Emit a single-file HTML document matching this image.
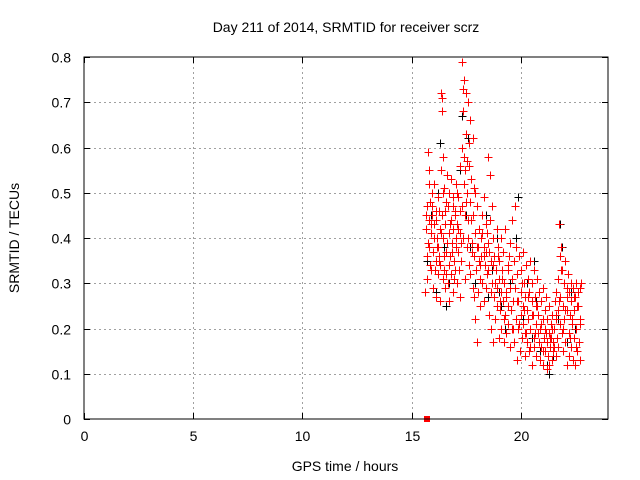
<!DOCTYPE html>
<html><head><meta charset="utf-8">
<style>
body{margin:0;background:#fff;}
svg{display:block;font-family:"Liberation Sans",sans-serif;}
</style></head>
<body>
<svg id="chart" width="640" height="480" xmlns="http://www.w3.org/2000/svg">
<text x="346" y="32" text-anchor="middle" font-size="14" fill="#000">Day 211 of 2014, SRMTID for receiver scrz</text>
<text x="345" y="471" text-anchor="middle" font-size="14" fill="#000">GPS time / hours</text>
<text x="19" y="238" text-anchor="middle" font-size="14" fill="#000" transform="rotate(-90 19 238)">SRMTID / TECUs</text>
<g id="grid"></g>
<g id="ticks"></g>
<g id="marks"></g>
<rect x="84" y="57" width="524" height="362" fill="none" stroke="#000" stroke-width="1"/>
</svg>
<script>
const xTicks=[0,5,10,15,20];
const yTicks=[0,0.1,0.2,0.3,0.4,0.5,0.6,0.7,0.8];
const yTickLabels=["0","0.1","0.2","0.3","0.4","0.5","0.6","0.7","0.8"];
const redX=[15.6,15.65,15.7,15.7,15.72,15.75,15.8,15.8,15.82,15.85,15.9,15.9,15.92,15.95,16.0,16.0,16.02,16.05,16.1,16.1,16.12,16.15,16.2,16.2,16.22,16.25,16.3,16.3,16.32,16.35,16.35,16.4,16.4,16.42,16.45,16.45,16.5,16.5,16.52,16.55,16.6,16.6,16.62,16.65,16.7,16.7,16.72,16.75,16.8,16.8,16.82,16.85,16.9,16.9,16.92,16.95,17.0,17.0,17.02,17.05,17.1,17.1,17.12,17.15,17.2,17.2,17.22,17.25,17.3,17.3,17.32,17.35,17.35,17.4,17.4,17.42,17.45,17.45,17.5,17.5,17.52,17.55,17.55,17.6,17.6,17.62,17.65,17.7,17.7,17.72,17.75,17.8,17.8,17.82,17.85,17.9,17.9,17.92,17.95,18.0,18.0,18.02,18.05,18.1,18.1,18.12,18.15,18.2,18.2,18.22,18.25,18.3,18.3,18.32,18.35,18.4,18.4,18.42,18.45,18.5,18.5,18.52,18.55,18.6,18.6,18.62,18.65,18.7,18.7,18.72,18.75,18.8,18.8,18.82,18.85,18.9,18.9,18.92,18.95,19.0,19.0,19.02,19.05,19.1,19.1,19.12,19.15,19.2,19.2,19.22,19.25,19.3,19.3,19.32,19.35,19.4,19.4,19.42,19.45,19.5,19.5,19.52,19.55,19.6,19.6,19.62,19.65,19.7,19.7,19.72,19.75,19.8,19.8,19.82,19.85,19.9,19.9,19.92,19.95,20.0,20.0,20.02,20.05,20.1,20.1,20.12,20.15,20.2,20.2,20.22,20.25,20.3,20.3,20.32,20.35,20.4,20.4,20.42,20.45,20.5,20.5,20.52,20.55,20.6,20.6,20.62,20.65,20.7,20.7,20.72,20.75,20.8,20.8,20.82,20.85,20.9,20.9,20.92,20.95,21.0,21.0,21.02,21.05,21.1,21.1,21.12,21.15,21.2,21.2,21.22,21.25,21.3,21.3,21.32,21.35,21.4,21.4,21.42,21.45,21.5,21.5,21.52,21.55,21.6,21.6,21.62,21.65,21.7,21.7,21.72,21.75,21.8,21.8,21.82,21.85,21.9,21.9,21.92,21.95,22.0,22.0,22.02,22.05,22.1,22.1,22.12,22.15,22.2,22.2,22.22,22.25,22.3,22.3,22.32,22.35,22.4,22.4,22.42,22.45,22.5,22.5,22.52,22.55,22.6,22.6,22.62,22.65,22.7,22.7,22.72,22.75];
const redY=[0.28,0.42,0.36,0.47,0.31,0.59,0.44,0.55,0.38,0.48,0.41,0.33,0.5,0.45,0.37,0.29,0.52,0.43,0.35,0.46,0.27,0.4,0.32,0.49,0.38,0.36,0.26,0.42,0.34,0.72,0.55,0.68,0.45,0.31,0.58,0.4,0.33,0.51,0.46,0.29,0.37,0.48,0.54,0.3,0.41,0.26,0.5,0.36,0.44,0.32,0.53,0.39,0.47,0.28,0.42,0.35,0.46,0.33,0.52,0.4,0.3,0.43,0.37,0.49,0.27,0.41,0.56,0.35,0.79,0.6,0.47,0.68,0.4,0.75,0.52,0.58,0.31,0.45,0.72,0.63,0.5,0.38,0.57,0.7,0.44,0.61,0.34,0.66,0.48,0.53,0.39,0.62,0.29,0.45,0.36,0.5,0.22,0.41,0.33,0.17,0.38,0.47,0.28,0.35,0.42,0.25,0.31,0.4,0.36,0.45,0.3,0.38,0.49,0.26,0.34,0.43,0.37,0.29,0.41,0.33,0.39,0.58,0.23,0.44,0.54,0.2,0.35,0.3,0.47,0.17,0.4,0.27,0.36,0.22,0.33,0.42,0.25,0.29,0.38,0.18,0.31,0.35,0.24,0.4,0.28,0.2,0.33,0.26,0.37,0.17,0.3,0.23,0.42,0.27,0.19,0.34,0.25,0.21,0.36,0.29,0.16,0.39,0.24,0.31,0.2,0.44,0.26,0.35,0.17,0.47,0.29,0.22,0.38,0.13,0.32,0.26,0.2,0.36,0.15,0.28,0.23,0.33,0.18,0.37,0.25,0.21,0.3,0.14,0.27,0.19,0.34,0.24,0.17,0.31,0.22,0.28,0.15,0.35,0.2,0.26,0.12,0.3,0.23,0.18,0.33,0.16,0.27,0.21,0.25,0.14,0.31,0.19,0.23,0.17,0.28,0.13,0.2,0.26,0.16,0.22,0.29,0.12,0.18,0.24,0.15,0.2,0.27,0.11,0.17,0.22,0.14,0.19,0.25,0.12,0.16,0.21,0.18,0.13,0.23,0.15,0.17,0.2,0.26,0.14,0.22,0.28,0.18,0.24,0.31,0.16,0.43,0.36,0.27,0.21,0.38,0.19,0.33,0.25,0.15,0.3,0.22,0.35,0.17,0.27,0.12,0.24,0.32,0.19,0.28,0.14,0.23,0.3,0.16,0.26,0.21,0.13,0.29,0.18,0.24,0.12,0.27,0.2,0.3,0.15,0.25,0.28,0.17,0.29,0.13,0.22,0.3,0.19,0.26,0.23];
const extraX=[15.68,15.74,15.78,15.84,15.88,15.96,16.04,16.08,16.14,16.18,16.24,16.28,16.34,16.38,16.44,16.48,16.54,16.58,16.64,16.68,16.74,16.78,16.84,16.88,16.94,16.98,17.04,17.08,17.14,17.18,17.24,17.28,17.38,17.44,17.48,17.58,17.64,17.68,17.74,17.78,17.84,17.88,18.04,18.14,18.24,18.34,18.44,18.54,18.64,18.74,18.84,18.94,19.04,19.14,19.24,19.34,19.44,19.54,19.64,19.74,19.84,19.94,20.04,20.14,20.24,20.34,20.44,20.54,20.64,20.74,20.84,20.94,21.04,21.14,21.24,21.34,21.44,21.54,21.64,21.74,21.84,21.94,22.04,22.14,22.24,22.34,22.44,22.54,22.64,22.74];
const extraY=[0.45,0.39,0.52,0.34,0.43,0.47,0.4,0.33,0.44,0.38,0.46,0.35,0.41,0.71,0.5,0.36,0.43,0.32,0.39,0.47,0.34,0.43,0.37,0.49,0.31,0.45,0.38,0.5,0.42,0.33,0.46,0.39,0.73,0.55,0.48,0.4,0.56,0.32,0.44,0.37,0.51,0.27,0.38,0.34,0.41,0.36,0.32,0.37,0.28,0.34,0.3,0.36,0.26,0.31,0.22,0.28,0.33,0.24,0.2,0.29,0.26,0.21,0.3,0.24,0.19,0.27,0.16,0.23,0.19,0.25,0.17,0.21,0.15,0.19,0.14,0.18,0.2,0.16,0.23,0.26,0.33,0.2,0.24,0.29,0.18,0.22,0.27,0.16,0.25,0.21];
const blackX=[15.7,15.9,16.1,16.3,16.5,16.7,16.9,17.1,17.3,17.5,17.7,17.9,18.1,18.3,18.5,18.7,18.9,19.1,19.3,19.5,19.7,19.9,20.1,20.3,20.5,20.7,20.9,21.1,21.3,21.5,21.7,21.9,22.1,22.3,22.5,16.2,16.6,17.2,17.6,18.4,19.0,19.8,20.6,21.2,21.8];
const blackY=[0.35,0.45,0.28,0.61,0.38,0.3,0.42,0.5,0.67,0.45,0.38,0.3,0.42,0.36,0.27,0.33,0.4,0.25,0.2,0.3,0.35,0.49,0.22,0.3,0.18,0.26,0.15,0.2,0.1,0.14,0.22,0.38,0.17,0.28,0.2,0.5,0.25,0.55,0.62,0.45,0.28,0.4,0.35,0.12,0.43];
const svg=document.getElementById('chart');
const NS='http://www.w3.org/2000/svg';
const L=84,R=608,T=57,B=419,XMAX=24,YMAX=0.8;
function xs(v){return L+v/XMAX*(R-L);}
function ys(v){return B-v/YMAX*(B-T);}
function mk(tag,attrs,parent){const e=document.createElementNS(NS,tag);for(const k in attrs)e.setAttribute(k,attrs[k]);parent.appendChild(e);return e;}
const grid=document.getElementById('grid'),ticks=document.getElementById('ticks'),marks=document.getElementById('marks');
xTicks.forEach(v=>{
  const x=Math.round(xs(v))+0.5;
  if(v>0){const g=mk('line',{x1:x,x2:x,y1:T,y2:B,stroke:'#a0a0a0','stroke-dasharray':'2,3'},grid);
  
  }
  mk('line',{x1:x,x2:x,y1:B,y2:B-6,stroke:'#000'},ticks);
  mk('line',{x1:x,x2:x,y1:T,y2:T+6,stroke:'#000'},ticks);
  const t=mk('text',{x:x,y:B+22,'text-anchor':'middle','font-size':'14',fill:'#000'},ticks);
  t.textContent=v;
  
  
});
yTicks.forEach((v,i)=>{
  const y=Math.round(ys(v))+0.5;
  if(v>0&&v<YMAX){const g=mk('line',{x1:L,x2:R,y1:y,y2:y,stroke:'#a0a0a0','stroke-dasharray':'2,3'},grid);
  
  }
  mk('line',{x1:L,x2:L+6,y1:y,y2:y,stroke:'#000'},ticks);
  mk('line',{x1:R,x2:R-6,y1:y,y2:y,stroke:'#000'},ticks);
  const t=mk('text',{x:L-13,y:y+5,'text-anchor':'end','font-size':'14',fill:'#000'},ticks);
  t.textContent=yTickLabels[i];
  
  
});
function plus(x,y,color,name){
  const cx=Math.round(xs(x))+0.5,cy=Math.round(ys(y))+0.5;
  const p=mk('path',{d:`M${cx-4},${cy}H${cx+4}M${cx},${cy-4}V${cy+4}`,stroke:color,'stroke-width':'1',fill:'none'},marks);
  
  
}
blackX.forEach((x,i)=>plus(x,blackY[i],'#000','black-point'));
redX.forEach((x,i)=>plus(x,redY[i],'#f00','red-point'));
extraX.forEach((x,i)=>plus(x,extraY[i],'#f00','red-point'));
const sq=mk('rect',{x:Math.round(xs(15.7))-3,y:B-3,width:6,height:6,fill:'#f00'},marks);


</script>
</body></html>
